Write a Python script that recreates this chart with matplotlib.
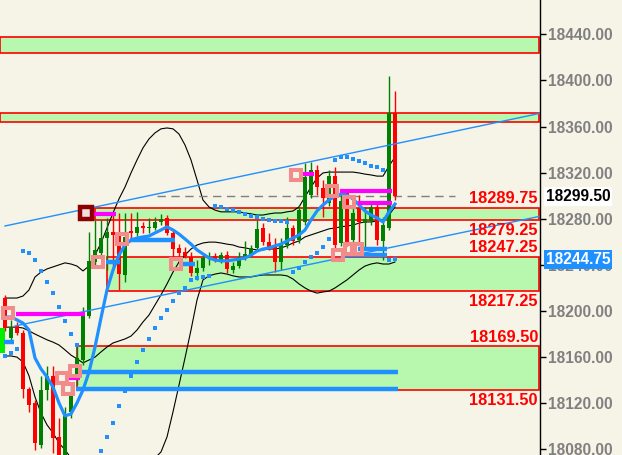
import matplotlib
matplotlib.use("Agg")
import matplotlib.pyplot as plt
import matplotlib.transforms as mtransforms
from matplotlib.patches import Rectangle
import numpy as np

plt.rcParams['font.family'] = ['Liberation Sans', 'DejaVu Sans']

# candles, index 0 = leftmost bar
opens = [18211.25, 18176.5, 18187, 18181, 18132.25, 18120.25, 18083.75, 18131.5, 18143.75, 18090.75,
         18063.75, 18112.5, 18140.25, 18157.5, 18195.75, 18242.5, 18250.25, 18263.25, 18268.5, 18267.75,
         18231.25, 18269.5, 18267.75, 18273.75, 18272, 18272, 18277.25, 18280.75, 18267.75, 18254.75,
         18251.25, 18246.75, 18233, 18237.25, 18246, 18247.75, 18244.25, 18248.5, 18235.5, 18239,
         18246, 18248.5, 18254.75, 18272, 18259.75, 18255.5, 18242.5, 18257.25, 18272, 18261.5,
         18277.25, 18300.5, 18322.25, 18306.75, 18293.75, 18317, 18259, 18302.25, 18261.5, 18289.25,
         18276.25, 18278, 18290.25, 18260.75, 18272, 18371.75]
highs = [18214, 18192.25, 18190.5, 18183.5, 18134, 18122.75, 18143.75, 18152.25, 18152.25, 18107.25,
         18116.75, 18135.75, 18170.5, 18203.5, 18268.5, 18279, 18279, 18280.75, 18285, 18285,
         18285, 18285, 18286, 18277.25, 18280.75, 18281.5, 18284.25, 18283.25, 18270.25, 18258,
         18255.5, 18251.25, 18244.25, 18248.5, 18251.25, 18250.25, 18251.25, 18252, 18242.5, 18251.25,
         18260.75, 18257.25, 18279, 18276.25, 18267.75, 18263.25, 18263.25, 18281.5, 18274.5, 18292,
         18328.5, 18329.25, 18326.75, 18313.75, 18322.25, 18325, 18302.25, 18305, 18291, 18300.5,
         18290.25, 18293.75, 18293.75, 18281.5, 18403.75, 18390.75]
lows = [18182.75, 18174, 18179.25, 18124.5, 18112.5, 18079.5, 18081.25, 18122.75, 18076.75, 18057.75,
        18055.25, 18107.25, 18135.75, 18153.25, 18194, 18239, 18246.75, 18235.5, 18235.5, 18218.25,
        18225.25, 18263.25, 18265, 18267.75, 18267.75, 18270.25, 18274.5, 18266, 18246.75, 18247.75,
        18246, 18230.5, 18227, 18234.75, 18240, 18242.5, 18241.75, 18233, 18233, 18237.25,
        18244.25, 18246.75, 18253, 18257.25, 18253, 18233.75, 18235.5, 18254.75, 18257.25, 18259,
        18274.5, 18298, 18300.5, 18281.5, 18291, 18254.75, 18256.5, 18256.5, 18259, 18259,
        18255.5, 18274.5, 18257.25, 18244.25, 18270.25, 18296.25]
closes = [18185.25, 18185.25, 18181, 18132.25, 18118.5, 18085.5, 18131.5, 18143.75, 18090, 18063.75,
          18109, 18127.25, 18159.25, 18196.5, 18243.5, 18253, 18263.25, 18268.5, 18266, 18232,
          18264.25, 18267.75, 18273, 18272, 18273, 18277.25, 18279.75, 18267.75, 18253.75, 18250.25,
          18247.75, 18233, 18237.25, 18246, 18246.75, 18245, 18248.5, 18236.5, 18239, 18246.75,
          18249.5, 18254.75, 18271, 18259.75, 18255.5, 18242.5, 18257.25, 18272, 18260.75, 18287.5,
          18316.25, 18322.25, 18307.5, 18298, 18317, 18257.25, 18295.5, 18259, 18285, 18277.25,
          18279.75, 18290.25, 18261.5, 18274.5, 18371.75, 18299.5]

# moving average (thick blue)
ma_vals = [18194.75, 18194.75, 18192.25, 18189.5, 18183.5, 18159.25, 18149.75, 18142.75, 18134, 18120.25,
           18109, 18110.75, 18120.25, 18131.5, 18147, 18168.75, 18194, 18218.25, 18235.5, 18248.5,
           18257.25, 18261.5, 18263.25, 18264.25, 18265, 18267.75, 18270.25, 18273, 18270.25, 18266.75,
           18262.5, 18258, 18253, 18249.5, 18246, 18244.25, 18243.5, 18243.5, 18244.25, 18245,
           18246, 18248.5, 18252, 18253.75, 18254.75, 18256.5, 18258, 18260.75, 18263.25, 18266,
           18270.25, 18279, 18286.75, 18292, 18296.25, 18299.75, 18301.5, 18300.5, 18297.25, 18292,
           18286.75, 18283.25, 18280.75, 18277.25, 18286, 18292.75]

# bollinger bands
bb_upper = [18211.25, 18211.25, 18211.25, 18213, 18218.25, 18229.5, 18233.75, 18236.5, 18238.25, 18240,
            18241.75, 18240.75, 18239, 18234.75, 18239, 18248.5, 18259, 18272, 18285, 18297.25,
            18307.5, 18319.75, 18331, 18341.5, 18349.25, 18354.5, 18358, 18358.75, 18358, 18353.5,
            18344, 18331, 18313.75, 18296.25, 18290.25, 18287.5, 18286, 18286, 18286, 18286,
            18285, 18284.25, 18283.25, 18283.25, 18284.25, 18285, 18285, 18286, 18286.75, 18290.25,
            18299, 18307.5, 18315.25, 18319.75, 18320.5, 18320.5, 18320.5, 18320.5, 18320.5, 18319.75,
            18318.75, 18318, 18317, 18317, 18325.75, 18333.5]
bb_mid = [18186, 18186, 18186, 18185.25, 18182.75, 18180, 18177.5, 18175, 18173, 18170.5,
          18166.25, 18161.75, 18158.5, 18155, 18157.5, 18160, 18164.5, 18168.75, 18172.25, 18174,
          18175.75, 18178.25, 18183.5, 18190.5, 18196.5, 18205.25, 18214, 18223.5, 18233.75, 18242.5,
          18248.5, 18253.75, 18257.25, 18259, 18259.75, 18259.75, 18259, 18258, 18257.25, 18255.5,
          18254.75, 18253.75, 18253, 18253, 18253.75, 18253.75, 18254.75, 18256.5, 18259, 18260.75,
          18264.25, 18266, 18267.75, 18269.5, 18271.25, 18272, 18273, 18273.75, 18274.5, 18276.25,
          18277.25, 18277.25, 18278, 18279, 18283.25, 18290.25]
bb_lower = [18161, 18161, 18160, 18155.75, 18143.75, 18125.5, 18111.5, 18101.25, 18094.25, 18085.5,
            18079.5, 18072.5, 18066.5, 18060.5, 18055.25, 18050, 18046.5, 18044.75, 18044.75, 18046.5,
            18048.25, 18051.75, 18055.25, 18060.5, 18066.5, 18072.5, 18077.75, 18090.75, 18112.5, 18135.75,
            18159.25, 18183.5, 18209.5, 18227, 18230.5, 18232, 18233, 18232, 18230.5, 18229.5,
            18229.5, 18229.5, 18230.5, 18231.25, 18231.25, 18231.25, 18231.25, 18230.5, 18227.75, 18223.5,
            18220, 18217.25, 18215.5, 18216.5, 18217.25, 18220, 18223.5, 18227, 18231.25, 18235.5,
            18239, 18240.75, 18241.75, 18240.75, 18240.75, 18242.5]

# parabolic sar dots (nan = off screen)
nan = float('nan')
sar_vals = [18161, 18163.5, 18167, 18252, 18250.25, 18244.25, 18234.75, 18225.25, 18215.5, 18203.5,
            18191.5, 18180, 18170.5, nan, nan, nan, 18078.5, 18090.75, 18103, 18117.75,
            18130.75, 18143.75, 18155.75, 18166.25, 18175.75, 18185.25, 18194, 18201, 18208.75, 18215.5,
            18220, 18227, 18228.75, 18229.5, 18230.5, 18291, 18290.25, 18288.5, 18287.5, 18286,
            18284.25, 18282.5, 18281.5, 18279.75, 18279, 18278, 18278, 18277.25, 18233.75, 18237.25,
            18242.5, 18246.75, 18250.25, 18255.5, 18262.5, 18331, 18333.5, 18333.5, 18331.75, 18330,
            18328.5, 18325.75, 18325, 18322.25, 18244.25, 18244.75]

# supply / demand zones
zone_start = [-0.75, -0.75, 15, 17, 12]
zone_low = [18423.5, 18364, 18279.25, 18217.25, 18131.5]
zone_high = [18437.5, 18371.5, 18289.75, 18247.25, 18169.5]

# level labels: price, text, above/below the line
level_prices = [18289.75, 18279.25, 18247.25, 18217.25, 18169.5, 18131.5]
level_texts = ['18289.75', '18279.25', '18247.25', '18217.25', '18169.50', '18131.50']
level_above = [True, False, True, False, True, False]

# trend channel
chan_x = [0, 89]
chan_upper = [18273.75, 18371.25]
chan_x_low = [1.67, 89]
chan_lower = [18187, 18282]

# markers
pink_x = [0.5, 11.67, 9.5, 10.5, 15.5, 19.5, 28.5, 48.5, 54.5, 57.33, 55.5, 57.5, 58.67]
pink_y = [18198.25, 18148, 18142, 18132.25, 18242.5, 18262.5, 18240.75, 18318, 18304, 18294.5,
          18248.5, 18253.75, 18253.75]
mag_x0 = [14.83, 1.83, 10.67, 49.67, 55.83, 58.83]
mag_x1 = [18.5, 13.33, 12.5, 51.5, 64.5, 64.5]
mag_y = [18283.75, 18197.75, 18142, 18318.5, 18304.5, 18294]
bar_x0 = [12.5, 11.83, -0.17, 20.83, 16.83, 29.67, 58.83, 56.83]
bar_x1 = [65.5, 65.5, 1.5, 28.33, 19.17, 31.67, 63.67, 63.67]
bar_y = [18147.5, 18132.75, 18173.5, 18262, 18242.5, 18240.75, 18253.75, 18248.5]

last_price = 18299.5
sar_price = 18244.75
yticks = [18080, 18120, 18160, 18200, 18240, 18280, 18320, 18360, 18400, 18440]

bg = '#f6f3e7'
zone_fill = '#b8f7ae'
blue = '#1e90ff'

fig = plt.figure(figsize=(6.22, 4.55), dpi=100, facecolor=bg)
ax = fig.add_axes([0, 0, 540 / 622, 1])
ax.set_facecolor(bg)
ax.set_xlim(-0.833, 89.167)
ax.set_ylim(18075.1, 18469.75)

for s in ['top', 'bottom', 'left']:
    ax.spines[s].set_visible(False)
ax.spines['right'].set_color('black')
ax.spines['right'].set_linewidth(1)
ax.set_xticks([])
ax.yaxis.tick_right()
ax.set_yticks(yticks)
ax.set_yticklabels(['%.2f' % t for t in yticks])
ax.tick_params(axis='y', direction='out', length=4, width=1, color='black',
               labelcolor='#808080', labelsize=11.2, pad=1.5)
for lbl in ax.get_yticklabels():
    lbl.set_fontweight('bold')

for st, lo, hi in zip(zone_start, zone_low, zone_high):
    ax.add_patch(Rectangle((st, lo), 89.0 - st, hi - lo, facecolor=zone_fill,
                           edgecolor='red', lw=1.2, zorder=1))

idx = np.arange(len(opens))
ax.plot(idx, bb_upper, color='black', lw=0.8, zorder=2)
ax.plot(idx, bb_mid, color='black', lw=0.8, zorder=2)
ax.plot(idx, bb_lower, color='black', lw=0.8, zorder=2)

ax.hlines(last_price, 25.3, 75, color='#808080', lw=1, linestyles=(0, (6, 4)), zorder=2)

o = np.array(opens)
c = np.array(closes)
cols = np.where(c >= o, '#008000', '#ff0000')
ax.vlines(idx, lows, highs, colors=cols, lw=1, zorder=3)
ax.bar(idx, np.maximum(np.abs(c - o), 0.6), bottom=np.minimum(o, c), width=0.82,
       color=cols, edgecolor='none', zorder=3.1)

ax.add_patch(Rectangle((-0.833, 18163.5), 0.8, 21.75, facecolor='#00ee00', edgecolor='none', zorder=3.5))

ax.plot(idx, ma_vals, color=blue, lw=2.3, zorder=4)
ax.plot(idx, sar_vals, 's', color=blue, ms=2.3, mew=0, zorder=4)

ax.plot(chan_x, chan_upper, color=blue, lw=1, zorder=5)
ax.plot(chan_x_low, chan_lower, color=blue, lw=1, zorder=5)

ax.hlines(bar_y, bar_x0, bar_x1, color=blue, lw=3.2, zorder=5)
ax.hlines(mag_y, mag_x0, mag_x1, color='#ff00ff', lw=3, zorder=5)

ax.plot(pink_x, pink_y, 's', ms=7.6, mfc='none', mec='#f28b8b', mew=2.9, zorder=6)
ax.plot([13.5], [18285], 's', ms=8.2, mfc='#f3dede', mec='#8b0000', mew=3.2, zorder=6)

for p, t, up in zip(level_prices, level_texts, level_above):
    ax.annotate(t, xy=(88.83, p), xytext=(0, 3.2 if up else -10.8), textcoords='offset points',
                ha='right', va='baseline', color='red', fontsize=11.8, fontweight='bold', zorder=7)

trans = mtransforms.blended_transform_factory(ax.transAxes, ax.transData)
ax.text(1.0111, last_price, '%.2f' % last_price, transform=trans, ha='left', va='center',
        color='black', fontsize=11.2, fontweight='bold', clip_on=False, zorder=10,
        bbox=dict(boxstyle='square,pad=0.12', fc='white', ec='none'))
ax.text(1.0111, sar_price, '%.2f' % sar_price, transform=trans, ha='left', va='center',
        color='white', fontsize=11.2, fontweight='bold', clip_on=False, zorder=10,
        bbox=dict(boxstyle='square,pad=0.12', fc=blue, ec='none'))

fig.savefig('out.png', dpi=100, facecolor=bg)
